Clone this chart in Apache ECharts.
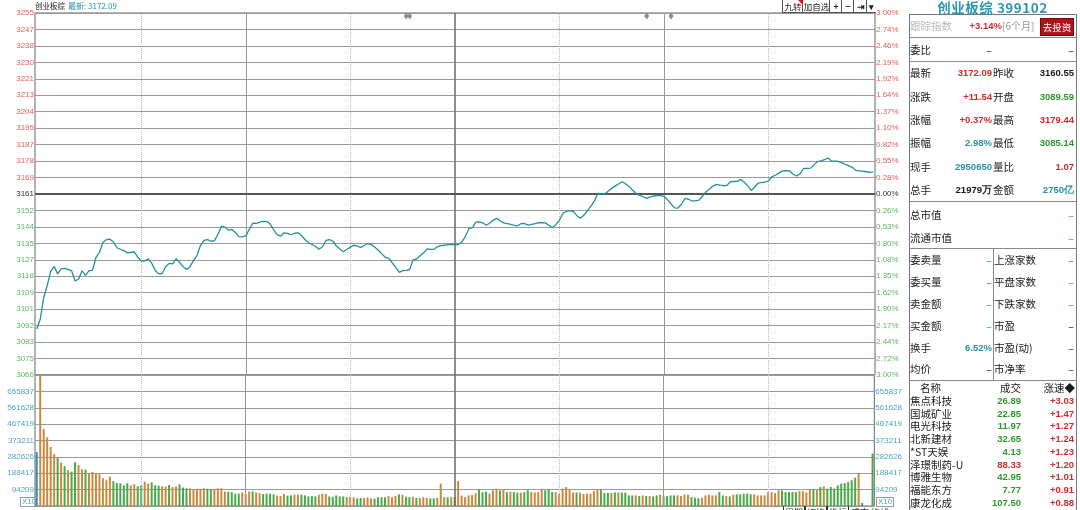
<!DOCTYPE html>
<html>
<head>
<meta charset="utf-8">
<script src="https://cdn.jsdelivr.net/npm/echarts/dist/echarts.min.js"></script>
<style>
  body { margin: 0; background: #fff; width: 1080px; height: 510px; overflow: hidden; position: relative; }
  #chart { position: absolute; left: 0; top: 0; width: 905px; height: 510px; }
  .t { position: absolute; line-height: 14px; font-size: 10.5px; font-family: "Noto Sans CJK SC", sans-serif; white-space: nowrap; color: #1a1a1a; }
  .n { font-family: "Liberation Sans", Arial, sans-serif; font-weight: bold; font-size: 9.5px; }
  .red { color: #d42a2a; } .grn { color: #2b9c2b; } .teal { color: #2a8fa5; } .gray { color: #b8b8b8; } .dim { color: #999; }
  .ln { position: absolute; background: #8a8a8a; }
  .btn { position: absolute; top: 0; height: 12px; border-left: 1px solid #555; border-bottom: 1px solid #555; background: #fff;
         font: 8.5px "Noto Sans CJK SC", sans-serif; line-height: 12px; text-align: center; color: #222; overflow: hidden; }
  .x10 { position: absolute; top: 497px; height: 8px; border: 1px solid #999; font: 8px "Liberation Sans", Arial; line-height: 8px; color: #4ba3bd; padding: 0 1px; }
</style>
</head>
<body>
<div id="chart"></div>
<script>
// 创业板综 399102 分时
const preClose = 3160.55;
const priceTicks = ['3066','3075','3083','3092','3101','3109','3118','3127','3135','3144','3152','3161',
  '3169','3178','3187','3195','3204','3213','3221','3230','3238','3247','3255'];
const pctTicks = ['3.00%','2.72%','2.44%','2.17%','1.90%','1.62%','1.35%','1.08%','0.80%','0.53%','0.26%','0.00%',
  '0.28%','0.55%','0.82%','1.10%','1.37%','1.64%','1.92%','2.19%','2.46%','2.74%','3.00%'];
const volTicks = ['', '94209', '188417', '282626', '373211', '467419', '561628', '655837', ''];

const prices = [
  3089.8,3094.9,3106.3,3112.6,3120.0,3122.6,3118.7,3121.3,3121.6,3121.1,3120.3,3115.0,3116.0,3120.3,3117.9,3120.4,3120.5,3127.4,3130.0,3135.3,3136.6,3136.9,3135.4,3132.4,3131.6,3130.9,3129.7,3129.9,3130.3,3127.4,
  3125.4,3125.5,3126.6,3124.2,3120.5,3118.7,3118.9,3122.6,3124.2,3123.9,3126.6,3124.7,3122.4,3121.0,3122.6,3125.8,3128.4,3133.7,3136.3,3136.6,3135.8,3136.1,3139.5,3143.7,3143.2,3141.6,3142.0,3140.4,3138.2,3138.1,
  3138.6,3142.1,3145.3,3145.1,3145.8,3146.2,3146.1,3144.8,3141.7,3139.1,3138.5,3140.2,3139.9,3139.2,3140.0,3140.2,3138.7,3136.6,3135.0,3134.1,3133.2,3131.6,3132.9,3136.3,3136.6,3135.8,3133.3,3131.6,3130.3,3131.6,
  3132.7,3133.7,3133.3,3132.5,3133.7,3134.5,3134.1,3132.6,3131.1,3129.2,3127.4,3126.8,3124.5,3122.1,3119.5,3120.4,3120.5,3121.0,3126.1,3126.5,3128.2,3129.8,3131.8,3131.5,3131.6,3133.0,3133.5,3133.7,3134.0,3134.1,
  3134.1,3134.1,3135.5,3138.4,3142.4,3142.9,3145.8,3145.9,3145.4,3144.2,3145.4,3146.9,3147.8,3146.4,3145.4,3145.0,3144.6,3144.1,3143.9,3145.1,3145.0,3144.2,3144.6,3145.0,3145.6,3145.5,3145.4,3144.0,3143.0,3144.6,
  3146.9,3150.5,3151.4,3151.9,3151.3,3149.2,3147.9,3149.5,3151.7,3154.2,3156.9,3160.9,3160.6,3160.7,3162.1,3163.5,3164.8,3165.9,3167.0,3165.8,3164.4,3162.5,3160.7,3159.8,3159.1,3158.3,3159.0,3159.5,3159.7,3159.8,
  3159.2,3157.5,3155.3,3153.3,3153.2,3155.3,3158.2,3157.8,3156.9,3156.9,3157.3,3159.5,3161.6,3163.0,3164.7,3165.6,3165.2,3164.9,3165.0,3167.0,3167.1,3167.2,3168.2,3166.7,3164.8,3162.4,3164.2,3166.3,3166.6,3166.8,
  3167.5,3169.7,3170.5,3171.6,3172.7,3172.8,3172.7,3170.9,3170.0,3171.1,3173.9,3174.0,3174.1,3175.8,3177.5,3177.9,3178.6,3179.4,3177.9,3177.8,3177.6,3176.9,3176.1,3175.3,3174.5,3172.9,3172.7,3172.5,3172.2,3171.9,3172.09
];

const volumes = [
  310000,760000,443000,395000,340000,298000,277000,250000,229000,206000,198000,252000,235000,212000,210000,190000,196000,187000,183000,160000,148000,169000,142000,132000,131000,119000,131000,119000,125000,113000,
  119000,140000,129000,136000,119000,117000,113000,112000,121000,109000,113000,125000,106000,102000,102000,96000,99000,99000,102000,99000,96000,96000,102000,102000,83000,83000,80000,71000,71000,78000,
  69000,84000,84000,78000,75000,69000,71000,71000,67000,61000,57000,69000,60000,61000,65000,65000,65000,61000,55000,57000,55000,65000,71000,69000,55000,53000,61000,55000,55000,51000,
  53000,50000,44000,46000,46000,50000,44000,42000,50000,51000,50000,57000,51000,57000,67000,65000,53000,51000,53000,46000,46000,51000,46000,44000,44000,46000,129000,51000,50000,51000,
  51000,144000,60000,51000,61000,64000,73000,94000,80000,83000,71000,90000,100000,90000,94000,80000,83000,80000,77000,77000,80000,90000,80000,78000,80000,100000,90000,94000,80000,80000,
  71000,100000,109000,94000,78000,77000,77000,69000,71000,71000,86000,94000,94000,75000,75000,75000,78000,78000,77000,77000,61000,61000,61000,57000,61000,57000,57000,55000,61000,65000,
  55000,57000,61000,61000,61000,57000,65000,65000,51000,48000,44000,48000,61000,65000,61000,61000,80000,61000,57000,55000,65000,67000,67000,71000,71000,67000,67000,61000,61000,61000,
  80000,80000,75000,90000,90000,80000,80000,80000,80000,86000,86000,78000,94000,98000,94000,109000,113000,100000,109000,100000,119000,129000,132000,138000,148000,163000,190000,17000,0,0,302000
];

// 1 = 上涨(橙), -1 = 下跌(绿), 0 = 平/集合竞价(蓝)
const volDir = [
  0,1,1,1,1,1,-1,1,-1,1,-1,-1,1,1,-1,1,1,1,1,1,1,1,-1,-1,-1,-1,-1,1,1,-1,
  -1,1,1,-1,-1,-1,1,1,-1,1,1,-1,-1,-1,1,1,1,1,1,-1,-1,1,1,1,1,-1,-1,-1,-1,1,
  1,1,-1,1,1,-1,-1,-1,-1,1,1,1,-1,-1,1,1,-1,-1,-1,-1,-1,1,1,1,-1,-1,-1,-1,-1,1,
  1,1,-1,-1,1,1,1,-1,-1,-1,-1,1,1,1,-1,1,-1,-1,1,-1,1,1,1,-1,-1,1,1,1,-1,1,
  -1,1,1,1,1,1,1,-1,-1,-1,1,1,1,-1,1,-1,1,-1,-1,1,-1,-1,1,1,1,1,-1,-1,-1,1,
  1,1,1,1,1,-1,1,1,1,1,1,1,-1,-1,-1,1,-1,1,-1,-1,-1,-1,1,-1,1,-1,1,-1,-1,1,
  -1,-1,-1,-1,1,1,1,1,-1,-1,-1,1,1,1,1,1,-1,-1,1,-1,1,-1,-1,-1,-1,-1,1,1,1,1,
  1,1,1,1,-1,-1,-1,-1,-1,1,1,1,1,-1,1,-1,1,-1,-1,-1,-1,-1,-1,-1,-1,-1,1,0,0,0,-1
];

const markerIdx = [106, 107, 175, 182];

// 9:30-11:30, 13:01-15:00
const times = [];
function hm(m) { return Math.floor(m / 60) + ':' + String(m % 60).padStart(2, '0'); }
for (let m = 0; m <= 120; m++) times.push(hm(570 + m));
for (let m = 1; m <= 120; m++) times.push(hm(780 + m));

const pctStep = 3 / 11;
const volStep = 94209;
const tickIdx = v => Math.round((Number(v) + 3) / pctStep);
const sideColor = v => { const i = tickIdx(v); return i > 11 ? '#e0605a' : (i === 11 ? '#333' : '#5db85d'); };
const dirColor = { '1': '#c98a3e', '-1': '#47a947', '0': '#2e8fb5' };

const dotted = { type: 'dotted', color: '#b8b8b8', width: 1 };
const solid = { type: 'solid', color: '#999', width: 1 };
const noon = { type: 'solid', color: '#6a6a6a', width: 1.5 };
const vLines = [[30, dotted], [60, solid], [90, dotted], [120, noon], [150, dotted], [180, solid], [210, dotted]];
const vLineData = () => vLines.map(([i, s]) => ({ xAxis: times[i], lineStyle: s }));

const axisFont = { fontSize: 8, fontFamily: 'Liberation Sans, Arial', margin: 1, showMinLabel: true, showMaxLabel: true };

const chart = echarts.init(document.getElementById('chart'), null, { renderer: 'canvas' });
chart.setOption({
  animation: false,
  backgroundColor: '#fff',
  grid: [
    { left: 35, top: 13, width: 840, height: 362, show: true, borderColor: '#666', borderWidth: 1 },
    { left: 35, top: 375, width: 840, height: 131, show: true, borderColor: '#666', borderWidth: 1 }
  ],
  xAxis: [0, 1].map(g => ({
    type: 'category', gridIndex: g, data: times, boundaryGap: true,
    axisLine: { show: false }, axisTick: { show: false }, axisLabel: { show: false }, splitLine: { show: false }
  })),
  yAxis: [
    { type: 'value', gridIndex: 0, position: 'left', min: -3, max: 3, interval: pctStep,
      axisLine: { show: false }, axisTick: { show: false },
      splitLine: { show: true, lineStyle: { color: '#9a9a9a', width: 1 } },
      axisLabel: Object.assign({ formatter: v => priceTicks[tickIdx(v)], color: sideColor }, axisFont) },
    { type: 'value', gridIndex: 0, position: 'right', min: -3, max: 3, interval: pctStep,
      axisLine: { show: false }, axisTick: { show: false }, splitLine: { show: false },
      axisLabel: Object.assign({ formatter: v => pctTicks[tickIdx(v)], color: sideColor }, axisFont) },
    { type: 'value', gridIndex: 1, position: 'left', min: 0, max: volStep * 8, interval: volStep,
      axisLine: { show: false }, axisTick: { show: false },
      splitLine: { show: true, lineStyle: { color: '#9a9a9a', width: 1 } },
      axisLabel: Object.assign({ formatter: v => volTicks[Math.round(v / volStep)], color: '#4ba3bd' }, axisFont) },
    { type: 'value', gridIndex: 1, position: 'right', min: 0, max: volStep * 8, interval: volStep,
      axisLine: { show: false }, axisTick: { show: false }, splitLine: { show: false },
      axisLabel: Object.assign({ formatter: v => volTicks[Math.round(v / volStep)], color: '#4ba3bd' }, axisFont) }
  ],
  series: [
    {
      type: 'line', xAxisIndex: 0, yAxisIndex: 0, showSymbol: false, symbol: 'none',
      data: prices.map(p => (p / preClose - 1) * 100),
      lineStyle: { color: '#21919c', width: 1.3 },
      markLine: {
        silent: true, symbol: ['none', 'none'], label: { show: false },
        data: vLineData().concat([{ yAxis: 0, lineStyle: { type: 'solid', color: '#555', width: 2 } }])
      },
      markPoint: {
        silent: true, symbol: 'diamond', symbolSize: [5, 7], label: { show: false },
        itemStyle: { color: '#8c8c8c' },
        data: markerIdx.map(i => ({ coord: [times[i], 2.95] }))
      },
      z: 5
    },
    {
      type: 'bar', xAxisIndex: 1, yAxisIndex: 2, barWidth: 2, clip: true,
      data: volumes.map((v, i) => ({ value: v, itemStyle: { color: dirColor[volDir[i]] } })),
      markLine: { silent: true, symbol: ['none', 'none'], label: { show: false }, data: vLineData() }
    }
  ]
});

// ---- 页面上的其他文字 ----
function put(text, x, y, cls, right) {
  const el = document.createElement('div');
  el.className = 't ' + (cls || '');
  el.textContent = text;
  el.style.top = (y - 7) + 'px';
  if (right) el.style.right = (1080 - x) + 'px'; else el.style.left = x + 'px';
  document.body.appendChild(el);
  return el;
}
function line(x, y, w, h, color) {
  const el = document.createElement('div');
  el.className = 'ln';
  Object.assign(el.style, { left: x + 'px', top: y + 'px', width: w + 'px', height: h + 'px' });
  if (color) el.style.background = color;
  document.body.appendChild(el);
}

// 左上标题
put('创业板综', 35, 6, '').style.fontSize = '7.5px';
const last = put('最新: 3172.09', 68, 6, 'n teal');
Object.assign(last.style, { fontWeight: 'normal', fontSize: '8px', fontFamily: '"Noto Sans CJK SC", sans-serif' });

// 右上按钮
const btns = [['九转', 782, 20], ['加自选', 802, 27], ['+', 829, 12], ['−', 841, 12], ['⇥', 853, 13], ['▾', 866, 9]];
btns.forEach(([s, x, w]) => {
  const b = document.createElement('div');
  b.className = 'btn'; b.textContent = s;
  Object.assign(b.style, { left: x + 'px', width: w + 'px' });
  if (s.length === 1) b.style.fontWeight = 'bold';
  document.body.appendChild(b);
});
const tri = document.createElement('div');
Object.assign(tri.style, { position: 'absolute', left: '798px', top: '0px', width: 0, height: 0,
  borderTop: '5px solid #e01010', borderLeft: '5px solid transparent' });
document.body.appendChild(tri);

// X10
[[20], [876]].forEach(([x]) => {
  const d = document.createElement('div');
  d.className = 'x10'; d.textContent = 'X10'; d.style.left = x + 'px';
  document.body.appendChild(d);
});

// 底部被截断的按钮
const bottom = document.createElement('div');
Object.assign(bottom.style, { position: 'absolute', left: '783px', top: '506px', height: '4px', overflow: 'hidden',
  font: '9px "Noto Sans CJK SC"', color: '#333', whiteSpace: 'nowrap' });
bottom.innerHTML = '<span style="border:1px solid #333;padding:0 1px">周期</span><span style="border:1px solid #333;padding:0 1px">切换</span><span style="border:1px solid #333;padding:0 1px">指标</span> 成交 均线';
document.body.appendChild(bottom);

// ---- 右侧信息面板 ----
const title = put('创业板综 399102', 909, 7, 'teal');
Object.assign(title.style, { width: '167px', textAlign: 'center', fontSize: '13.5px', fontWeight: 'bold', letterSpacing: '0.5px', color: '#2a98ad' });

line(909, 14, 168, 1, '#777');
line(909, 14, 1, 496, '#777');
line(1076, 14, 1, 496, '#777');
[37, 61, 201, 248, 380].forEach(y => line(909, y, 168, 1));
line(993, 248, 1, 133);

put('跟踪指数', 910, 26, 'gray');
put('+3.14%', 1002, 26, 'n red', true);
put('[6个月]', 1002, 26, 'dim').style.fontSize = '10px';
const inv = put('去投资', 1040, 26, '');
Object.assign(inv.style, { width: '32px', height: '16px', top: '18px', lineHeight: '16px', textAlign: 'center',
  background: '#b3121b', color: '#fff', fontSize: '9.5px', border: '1px solid #6d0a0a' });

put('委比', 910, 50, '');
put('–', 992, 50, '', true);
put('–', 1074, 50, '', true);

const quote = [
  ['最新', '3172.09', 'red', '昨收', '3160.55', ''],
  ['涨跌', '+11.54', 'red', '开盘', '3089.59', 'grn'],
  ['涨幅', '+0.37%', 'red', '最高', '3179.44', 'red'],
  ['振幅', '2.98%', 'teal', '最低', '3085.14', 'grn'],
  ['现手', '2950650', 'teal', '量比', '1.07', 'red'],
  ['总手', '21979万', '', '金额', '2750亿', 'teal']
];
const quoteY = [73, 96.5, 119.5, 143, 166.5, 190];
quote.forEach((r, k) => {
  const y = quoteY[k];
  put(r[0], 910, y, '');
  put(r[1], 992, y, 'n ' + r[2], true);
  put(r[3], 993, y, '');
  put(r[4], 1074, y, 'n ' + r[5], true);
});

put('总市值', 910, 215, '');
put('–', 1074, 215, 'teal', true);
put('流通市值', 910, 237.5, '');
put('–', 1074, 237.5, 'teal', true);

const depth = [
  ['委卖量', '–', 'grn', '上涨家数', '–', 'red'],
  ['委买量', '–', 'red', '平盘家数', '–', 'teal'],
  ['卖金额', '–', 'teal', '下跌家数', '–', 'grn'],
  ['买金额', '–', 'teal', '市盈', '–', ''],
  ['换手', '6.52%', 'teal', '市盈(动)', '–', ''],
  ['均价', '–', '', '市净率', '–', '']
];
const depthY = [260, 282, 303.5, 325.5, 347.5, 369];
depth.forEach((r, k) => {
  const y = depthY[k];
  put(r[0], 910, y, '');
  put(r[1], 992, y, (r[1] === '–' ? '' : 'n ') + r[2], true);
  put(r[3], 994, y, '');
  put(r[4], 1074, y, r[5], true);
});

put('名称', 920, 388, '');
put('成交', 1000, 388, '');
put('涨速◆', 1075, 388, '', true);

const board = [
  ['焦点科技', '26.89', 'grn', '+3.03'],
  ['国城矿业', '22.85', 'grn', '+1.47'],
  ['电光科技', '11.97', 'grn', '+1.27'],
  ['北新建材', '32.65', 'grn', '+1.24'],
  ['*ST天娱', '4.13', 'grn', '+1.23'],
  ['泽璟制药-U', '88.33', 'red', '+1.20'],
  ['博雅生物', '42.95', 'grn', '+1.01'],
  ['福能东方', '7.77', 'grn', '+0.91'],
  ['康龙化成', '107.50', 'grn', '+0.88']
];
board.forEach((r, k) => {
  const y = 401 + k * 12.7;
  put(r[0], 910, y, '');
  put(r[1], 1021, y, 'n ' + r[2], true);
  put(r[3], 1074, y, 'n red', true);
});
</script>
</body>
</html>
